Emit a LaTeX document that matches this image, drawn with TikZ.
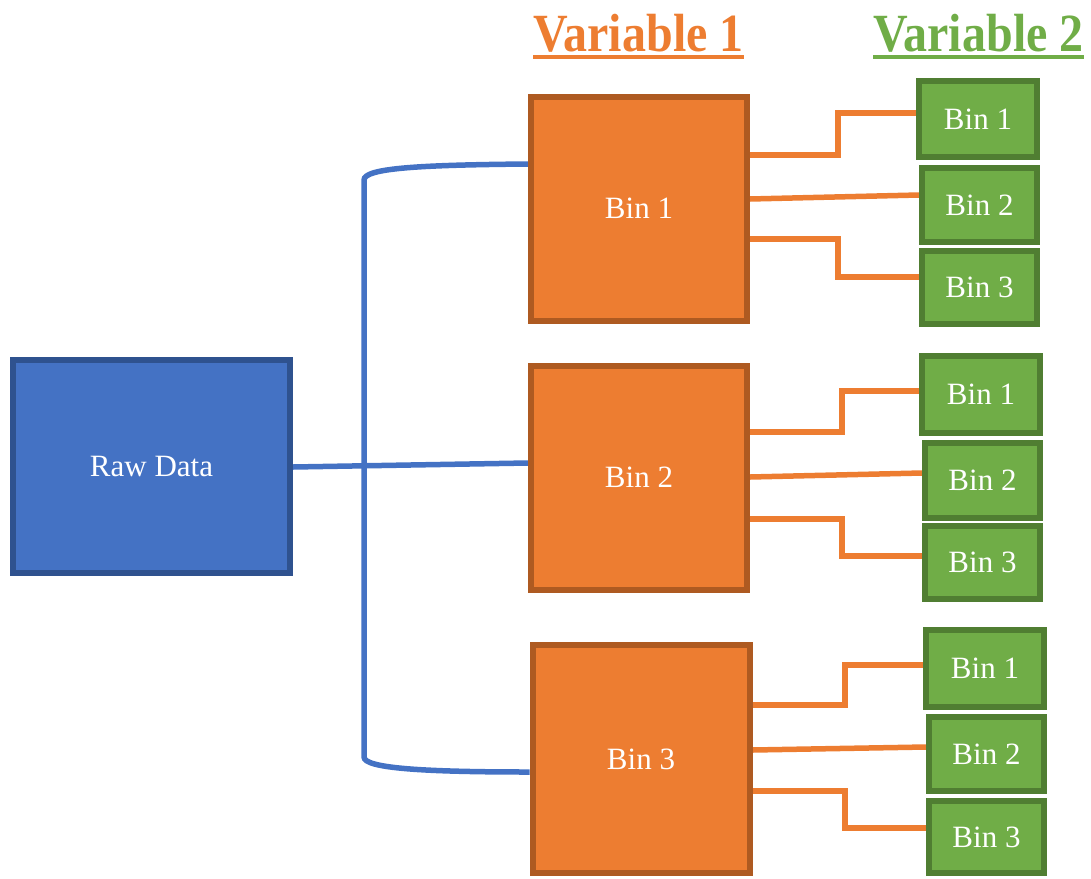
\documentclass[tikz,border=0pt]{standalone}
\usepackage{fontspec}
\setmainfont{Liberation Serif}
\usetikzlibrary{backgrounds}
\definecolor{bfill}{HTML}{4472C4}
\definecolor{bdraw}{HTML}{2F528F}
\definecolor{ofill}{HTML}{ED7D31}
\definecolor{odraw}{HTML}{AE5A21}
\definecolor{gfill}{HTML}{70AD47}
\definecolor{gdraw}{HTML}{507E32}
\tikzset{
  box/.style={rectangle, line width=6pt, inner sep=0pt, text=white,
    font=\fontsize{31}{37}\selectfont},
  rawbox/.style={box, fill=bfill, draw=bdraw},
  vonebox/.style={box, fill=ofill, draw=odraw, minimum width=216pt, minimum height=224pt},
  vtwobox/.style={box, fill=gfill, draw=gdraw, minimum width=118pt, minimum height=75pt},
  blueline/.style={draw=bfill, line width=5.5pt},
  orangeline/.style={draw=ofill, line width=5.5pt, line join=miter},
  title/.style={inner sep=0pt, anchor=base, font=\bfseries\fontsize{48}{56}\selectfont},
}
\begin{document}
\begin{tikzpicture}[x=1pt, y=-1pt]
\useasboundingbox (0,0) rectangle (1091,878);
% titles
\node[title, text=ofill] (t1) at (638.5,51) {\scalebox{1}[1.12]{Variable 1}};
\node[title, text=gfill] (t2) at (978.5,51) {\scalebox{1}[1.12]{Variable 2}};
\draw[ofill, line width=4.5pt] (t1.base west |- 0,57) -- (t1.base east |- 0,57);
\draw[gfill, line width=4.5pt] (t2.base west |- 0,57) -- (t2.base east |- 0,57);
% boxes
\node[rawbox, minimum width=277pt, minimum height=213pt] (raw) at (151.5,466.5) {Raw Data};
\node[vonebox] (v1a) at (639,208.5) {Bin 1};
\node[vonebox] (v1b) at (639,477.5) {Bin 2};
\node[vonebox, minimum width=217pt, minimum height=228pt] (v1c) at (641,759) {Bin 3};
\node[vtwobox, minimum width=118pt, minimum height=76pt] (g1a) at (978,119) {Bin 1};
\node[vtwobox, minimum width=115pt, minimum height=74pt] (g1b) at (979.5,205) {Bin 2};
\node[vtwobox, minimum width=115pt, minimum height=73pt] (g1c) at (979.5,287.5) {Bin 3};
\node[vtwobox, minimum width=118pt, minimum height=77pt] (g2a) at (981,394.5) {Bin 1};
\node[vtwobox, minimum width=115pt, minimum height=75pt] (g2b) at (982.5,480.5) {Bin 2};
\node[vtwobox, minimum width=115pt, minimum height=73pt] (g2c) at (982.5,562.5) {Bin 3};
\node[vtwobox, minimum width=118pt, minimum height=77pt] (g3a) at (985,668.5) {Bin 1};
\node[vtwobox, minimum width=115pt, minimum height=74pt] (g3b) at (986.5,754) {Bin 2};
\node[vtwobox, minimum width=115pt, minimum height=72pt] (g3c) at (986.5,837) {Bin 3};
\coordinate (tj) at (364,180);
\coordinate (bj) at (364,757);
\begin{scope}[on background layer]
% blue connectors
\draw[blueline] (v1a.west |- 0,164) .. controls (420,165) and (364,168) .. (tj) -- (bj)
  .. controls (364,768) and (420,772) .. (v1c.west |- 0,772);
\draw[blueline] (raw.east |- 0,467) -- (v1b.west |- 0,463);
% orange connectors group 1
\draw[orangeline] (v1a.east |- 0,155) -- (838,155) -- (838,113) -- (g1a.west |- 0,113);
\draw[orangeline] (v1a.east |- 0,199) -- (g1b.west |- 0,195);
\draw[orangeline] (v1a.east |- 0,239) -- (838,239) -- (838,277) -- (g1c.west |- 0,277);
% group 2
\draw[orangeline] (v1b.east |- 0,432) -- (842,432) -- (842,391) -- (g2a.west |- 0,391);
\draw[orangeline] (v1b.east |- 0,477) -- (g2b.west |- 0,473);
\draw[orangeline] (v1b.east |- 0,519) -- (842,519) -- (842,556) -- (g2c.west |- 0,556);
% group 3
\draw[orangeline] (v1c.east |- 0,705) -- (845,705) -- (845,665) -- (g3a.west |- 0,665);
\draw[orangeline] (v1c.east |- 0,750) -- (g3b.west |- 0,747);
\draw[orangeline] (v1c.east |- 0,791) -- (845,791) -- (845,828) -- (g3c.west |- 0,828);
\end{scope}
\end{tikzpicture}
\end{document}
